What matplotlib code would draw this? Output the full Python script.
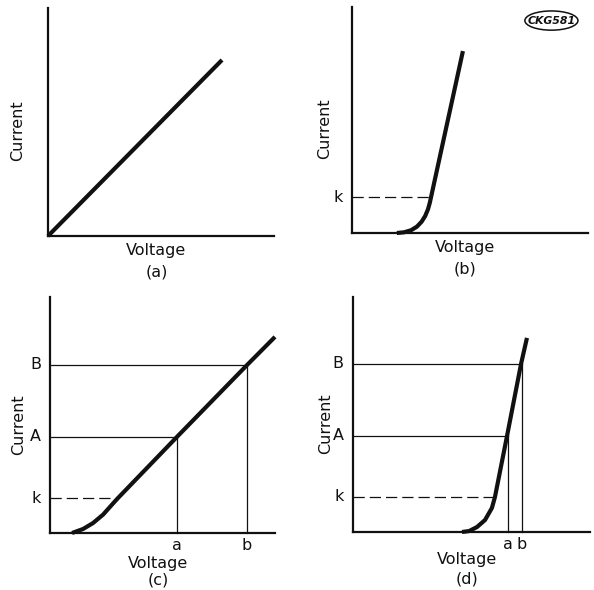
import matplotlib
matplotlib.use("Agg")
import matplotlib.pyplot as plt
from matplotlib.patches import Ellipse

# ---- data (units: 0..10 on each axis) ----
a_volt = [0.0, 7.70]
a_curr = [0.0, 7.72]

b_volt = [1.90, 2.20, 2.50, 2.75, 2.95, 3.10, 3.22, 3.30, 3.35, 4.70]
b_curr = [0.00, 0.03, 0.12, 0.28, 0.50, 0.75, 1.05, 1.35, 1.59, 8.05]
b_k = 1.59

c_volt = [0.98, 1.47, 1.91, 2.36, 2.80, 3.02, 5.64, 8.76, 10.0]
c_curr = [0.00, 0.17, 0.42, 0.78, 1.25, 1.48, 4.07, 7.12, 8.31]
c_k, c_A, c_B = 1.48, 4.07, 7.12
c_a, c_b = 5.64, 8.76

d_volt = [4.60, 4.90, 5.23, 5.57, 5.86, 5.99, 6.50, 7.09, 7.34]
d_curr = [0.00, 0.04, 0.21, 0.51, 1.02, 1.49, 4.09, 7.15, 8.26]
d_k, d_A, d_B = 1.49, 4.09, 7.15
d_a, d_b = 6.52, 7.12

panel_letters = ["(a)", "(b)", "(c)", "(d)"]

W, H = 594, 590
fig = plt.figure(figsize=(W / 100, H / 100), dpi=100)
fig.patch.set_facecolor("white")

FS = 11.5
INK = "#111111"


def make_ax(x0, y_bottom, x1, y_top):
    ax = fig.add_axes([x0 / W, 1 - y_bottom / H, (x1 - x0) / W, (y_bottom - y_top) / H])
    ax.set_xlim(0, 10)
    ax.set_ylim(0, 10)
    for s in ["top", "right"]:
        ax.spines[s].set_visible(False)
    for s in ["left", "bottom"]:
        ax.spines[s].set_linewidth(1.6)
        ax.spines[s].set_color(INK)
    ax.set_xticks([])
    ax.set_yticks([])
    ax.patch.set_alpha(0)
    return ax


def labels(ax, letter, cur_dx, volt_dy, let_dy):
    ax.text(cur_dx, 0.46, "Current", rotation=90, transform=ax.transAxes,
            ha="center", va="center", fontsize=FS, color=INK)
    ax.text(0.48, volt_dy, "Voltage", transform=ax.transAxes,
            ha="center", va="center", fontsize=FS, color=INK)
    ax.text(0.48, let_dy, letter, transform=ax.transAxes,
            ha="center", va="center", fontsize=FS, color=INK)


def curve(ax, x, y):
    ax.plot(x, y, color=INK, lw=3.0, solid_capstyle="butt", solid_joinstyle="round",
            clip_on=False, zorder=5)


def hline(ax, y, x_end, dashed=False):
    ax.plot([0, x_end], [y, y], color=INK, lw=0.9,
            ls=(0, (9, 4)) if dashed else "-", clip_on=False)


def vline(ax, x, y_end):
    ax.plot([x, x], [0, y_end], color=INK, lw=0.9, clip_on=False)


def ylab(ax, y, s):
    ax.text(-0.04, y, s, transform=ax.get_yaxis_transform(), ha="right", va="center",
            fontsize=FS, color=INK)


def xlab(ax, x, s):
    ax.text(x, -0.02, s, transform=ax.get_xaxis_transform(), ha="center", va="top",
            fontsize=FS, color=INK)


# (a)
ax_a = make_ax(48, 236, 274, 8)
curve(ax_a, a_volt, a_curr)
labels(ax_a, panel_letters[0], -0.135, -0.065, -0.16)

# (b)
ax_b = make_ax(352, 233, 588, 7)
curve(ax_b, b_volt, b_curr)
hline(ax_b, b_k, b_volt[b_curr.index(b_k)], dashed=True)
ylab(ax_b, b_k, "k")
labels(ax_b, panel_letters[1], -0.115, -0.065, -0.16)
ell = Ellipse((0.845, 0.94), 0.225, 0.085, transform=ax_b.transAxes,
              fill=False, lw=1.1, color=INK, clip_on=False)
ax_b.add_patch(ell)
ax_b.text(0.845, 0.94, "CKG581", transform=ax_b.transAxes, ha="center", va="center",
          fontsize=7.8, style="italic", fontweight="bold", color=INK)

# (c)
ax_c = make_ax(50, 533, 275, 297)
curve(ax_c, c_volt, c_curr)
hline(ax_c, c_k, c_volt[c_curr.index(c_k)], dashed=True)
hline(ax_c, c_A, c_a)
hline(ax_c, c_B, c_b)
vline(ax_c, c_a, c_A)
vline(ax_c, c_b, c_B)
ylab(ax_c, c_k, "k")
ylab(ax_c, c_A, "A")
ylab(ax_c, c_B, "B")
xlab(ax_c, c_a, "a")
xlab(ax_c, c_b, "b")
labels(ax_c, panel_letters[2], -0.14, -0.13, -0.2)

# (d)
ax_d = make_ax(353, 532, 590, 297)
curve(ax_d, d_volt, d_curr)
hline(ax_d, d_k, d_volt[d_curr.index(d_k)], dashed=True)
hline(ax_d, d_A, d_a)
hline(ax_d, d_B, d_b)
vline(ax_d, d_a, d_A)
vline(ax_d, d_b, d_B)
ylab(ax_d, d_k, "k")
ylab(ax_d, d_A, "A")
ylab(ax_d, d_B, "B")
xlab(ax_d, d_a, "a")
xlab(ax_d, d_b, "b")
labels(ax_d, panel_letters[3], -0.115, -0.115, -0.2)

fig.savefig("out.png", dpi=100, facecolor="white")
